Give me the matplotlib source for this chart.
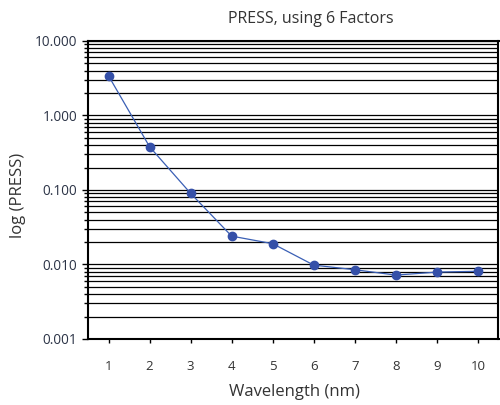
import numpy as np
import matplotlib.pyplot as plt
from matplotlib.ticker import LogLocator, FixedLocator, FuncFormatter, NullFormatter

plt.rcParams['font.family'] = ['Open Sans', 'DejaVu Sans']

# PRESS values per wavelength
wavelength = [1, 2, 3, 4, 5, 6, 7, 8, 9, 10]
press = [3.4, 0.38, 0.09, 0.024, 0.019, 0.0098, 0.0085, 0.0072, 0.0079, 0.0081]
y_ticks = [0.001, 0.01, 0.1, 1, 10]

fig = plt.figure(figsize=(5, 4.05), dpi=100)
ax = fig.add_axes([0.176, 0.163, 0.821, 0.736])

ax.plot(wavelength, press, color='#3a5fb5', lw=0.9, marker='o', ms=6,
        markerfacecolor='#3550a8', markeredgecolor='#3550a8', zorder=3)

ax.set_yscale('log')
ax.set_ylim(0.001, 10)
ax.set_xlim(0.5, 10.5)

ax.yaxis.set_major_locator(FixedLocator(y_ticks))
ax.yaxis.set_major_formatter(FuncFormatter(lambda v, p: f"{v:.3f}"))
ax.yaxis.set_minor_locator(LogLocator(base=10, subs=np.arange(2, 10), numticks=20))
ax.yaxis.set_minor_formatter(NullFormatter())
ax.grid(True, which='both', axis='y', color='black', lw=0.9)
ax.grid(False, axis='x')

ax.set_xticks(wavelength)
ax.tick_params(axis='x', length=3, width=1, pad=12, labelsize=9.5, labelcolor='#333333')
ax.tick_params(axis='y', which='major', length=4, width=1, labelsize=9.8, labelcolor='#2b3346')
ax.tick_params(axis='y', which='minor', length=3, width=1)

for s in ax.spines.values():
    s.set_linewidth(1.5)

ax.set_xlabel('Wavelength (nm)', fontsize=12, color='#333333', va='center')
ax.xaxis.set_label_coords(0.502, -0.178)
ax.set_ylabel('log (PRESS)', fontsize=12, color='#333333', va='center')
ax.yaxis.set_label_coords(-0.171, 0.483)
fig.text(0.622, 1 - 19 / 405, 'PRESS, using 6 Factors', fontsize=11.5,
         color='#333333', ha='center', va='center')

fig.savefig('out.png', dpi=100)
